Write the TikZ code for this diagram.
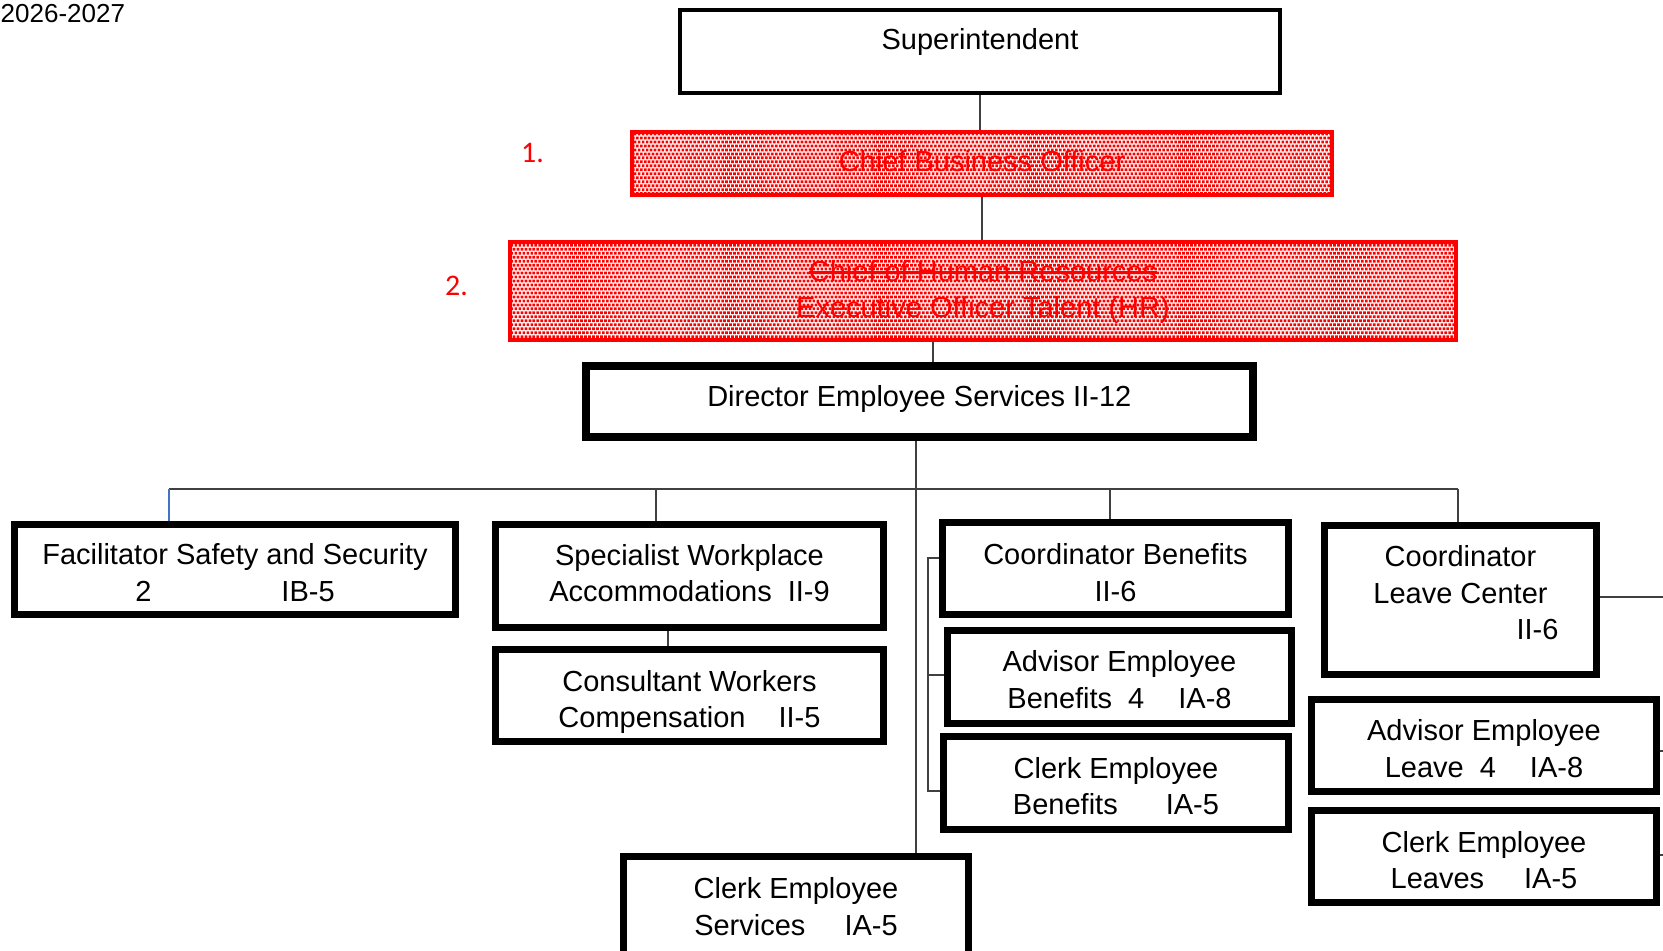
\documentclass[tikz,border=0pt]{standalone}
\usepackage{fontspec}
\setmainfont{Liberation Sans}
\newfontfamily\numfont{Carlito}
\usetikzlibrary{patterns}
\definecolor{linegray}{RGB}{64,64,64}
\definecolor{dropblue}{RGB}{68,114,196}
\newcommand\strikeout[1]{\setbox0=\hbox{#1}\rlap{\rule[0.26em]{\wd0}{0.08em}}\box0}
%% invisible struts to nudge the text in a box down (padtop) or up (padbot)
\newcommand\padtop[1]{\rule{0pt}{#1}}
\newcommand\padbot[1]{\rule[-#1]{0pt}{#1}}
\pgfdeclarepatternformonly{redgrain}{\pgfpoint{-0.1pt}{-0.1pt}}{\pgfpoint{1.3pt}{2.4pt}}{\pgfpoint{1.13pt}{2.26pt}}{%
  \pgfpathrectangle{\pgfpoint{0pt}{0pt}}{\pgfpoint{0.78pt}{0.78pt}}%
  \pgfpathrectangle{\pgfpoint{0.565pt}{1.13pt}}{\pgfpoint{0.78pt}{0.78pt}}%
  \pgfusepath{fill}}
\begin{document}
\begin{tikzpicture}[x=0.01cm,y=-0.01cm,
    every node/.style={font=\fontsize{8.25}{10.4}\selectfont,align=center},
    post/.style={draw,line width=2.1pt,inner sep=0pt},
    chief/.style={draw=red,line width=1.1pt,pattern=redgrain,pattern color=red,text=red,inner sep=0pt},
    link/.style={linegray,line width=0.45pt}]
    \useasboundingbox (0,0) rectangle (1663,950);
    %% year
    \node[anchor=west,inner sep=0pt,font=\fontsize{7.4}{9}\selectfont] (year) at (0,14) {2026-2027};
    %% top of the chart
    \node[draw,line width=1.1pt,minimum width=6cm,minimum height=0.83cm] (sup) at (980,51.5) {};
    \node (supname) at (980,42) {Superintendent};
    \node[chief,minimum width=7cm,minimum height=0.63cm] (cbo) at (982,163.5) {Chief Business Officer\padbot{1.7pt}};
    \node[chief,minimum width=9.46cm,minimum height=0.98cm] (hr) at (983,291) {\padtop{6.5pt}\strikeout{Chief of Human Resources}\\Executive Officer Talent (HR)};
    \node[text=red,font=\numfont\fontsize{8.5}{10}\selectfont] (one) at (532.5,153) {1.};
    \node[text=red,font=\numfont\fontsize{8.5}{10}\selectfont] (two) at (456.5,286) {2.};
    \node[post,line width=2.3pt,minimum width=6.67cm,minimum height=0.71cm] (dir) at (919.3,401.2) {Director Employee Services II-12\padbot{2.9pt}};
    %% staff
    \node[post,minimum width=4.41cm,minimum height=0.9cm] (fac) at (235,569.5) {\padtop{7.7pt}Facilitator Safety and Security\\2\hspace{1.3cm}IB-5};
    \node[post,minimum width=3.88cm,minimum height=1.03cm] (spec) at (689.5,576) {Specialist Workplace\\Accommodations\hspace{0.16cm}II-9\padbot{1.7pt}};
    \node[post,minimum width=3.88cm,minimum height=0.92cm] (cons) at (689.5,695.5) {\padtop{9.7pt}Consultant Workers\\Compensation\hspace{0.33cm}II-5};
    \node[post,minimum width=3.46cm,minimum height=0.92cm] (cb) at (1115.5,568.5) {\padtop{8.2pt}Coordinator Benefits\\II-6};
    \node[post,minimum width=3.44cm,minimum height=0.93cm] (aeb) at (1119.5,677) {\padtop{7.4pt}Advisor Employee\\Benefits\hspace{0.16cm}4\hspace{0.34cm}IA-8};
    \node[post,minimum width=3.45cm,minimum height=0.93cm] (ceb) at (1116,783) {\padtop{7.7pt}Clerk Employee\\Benefits\hspace{0.48cm}IA-5};
    \node[post,minimum width=2.72cm,minimum height=1.49cm] (lc) at (1460.5,600) {Coordinator\\Leave Center\\\hspace*{1.54cm}II-6\padbot{4.2pt}};
    \node[post,minimum width=3.45cm,minimum height=0.92cm] (ael) at (1484,745.5) {\padtop{7.7pt}Advisor Employee\\Leave\hspace{0.16cm}4\hspace{0.34cm}IA-8};
    \node[post,minimum width=3.45cm,minimum height=0.92cm] (cel) at (1484,856.5) {\padtop{8pt}Clerk Employee\\Leaves\hspace{0.4cm}IA-5};
    \node[post,minimum width=3.45cm,minimum height=0.98cm] (ces) at (796,905.7) {\padtop{6.5pt}Clerk Employee\\Services\hspace{0.39cm}IA-5};
    %% lines down the middle
    \draw[link] (sup.south) -- (sup.south |- cbo.north);
    \draw[link] (cbo.south) -- (cbo.south |- hr.north);
    \coordinate (hrdrop) at (933,0);
    \draw[link] (hr.south -| hrdrop) -- (dir.north -| hrdrop);
    \coordinate (trunk) at (916,0);
    \draw[link] (dir.south -| trunk) -- (ces.north -| trunk);
    %% bus and drops
    \coordinate (busL) at (169,489);
    \coordinate (busR) at (1458,489);
    \draw[link] (busL) -- (busR);
    \draw[dropblue,line width=0.35pt] (busL) -- (busL |- fac.north);
    \coordinate (specdrop) at (656,489);
    \draw[link] (specdrop) -- (specdrop |- spec.north);
    \coordinate (cbdrop) at (1110,489);
    \draw[link] (cbdrop) -- (cbdrop |- cb.north);
    \draw[link] (busR) -- (busR |- lc.north);
    \coordinate (consdrop) at (668,0);
    \draw[link] (spec.south -| consdrop) -- (cons.north -| consdrop);
    %% benefits bracket
    \draw[link] ([yshift=0.105cm]cb.west) -- ++(-11,0) |- ([yshift=-0.08cm]ceb.west);
    \draw[link] ([yshift=0.02cm]aeb.west) -- ++(-16,0);
    %% off to the right
    \draw[link] ([yshift=0.03cm]lc.east) -- ++(70,0);
    \draw[link] ([yshift=-0.055cm]ael.east) -- ++(10,0);
    \draw[link] ([yshift=0.015cm]cel.east) -- ++(10,0);
\end{tikzpicture}
\end{document}
